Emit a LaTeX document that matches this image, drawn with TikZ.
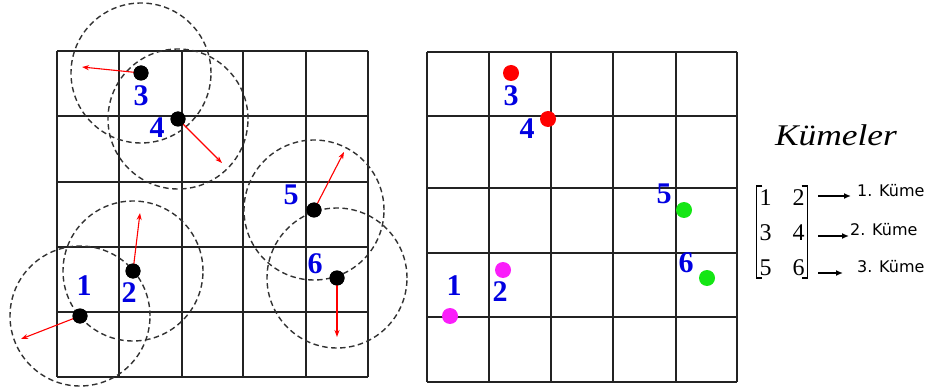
\documentclass[tikz,border=0pt]{standalone}
\usepackage{fontspec}
\setmainfont{Liberation Serif}
\newfontfamily\legendfont{DejaVu Sans}
\usetikzlibrary{positioning, arrows.meta, matrix}
\definecolor{LabelBlue}{RGB}{0, 0, 225}
\definecolor{GridGray}{RGB}{35, 35, 35}
\definecolor{RingGray}{RGB}{50, 50, 50}
\definecolor{DotRed}{RGB}{255, 0, 0}
\definecolor{DotPink}{RGB}{250, 30, 250}
\definecolor{DotGreen}{RGB}{20, 230, 20}

\begin{document}
\begin{tikzpicture}[
    x=1pt, y=-1pt,
    gridline/.style={line width=1.5pt, GridGray},
    ring/.style={dash pattern=on 5.5pt off 3.5pt, line width=1.4pt, RingGray},
    dot/.style={circle, fill=black, minimum size=15pt, inner sep=0pt},
    cdot/.style={circle, fill=#1, minimum size=16pt, inner sep=0pt},
    num/.style={font=\bfseries\fontsize{30}{30}\selectfont, text=LabelBlue, inner sep=0pt},
    move/.style={-{Stealth[length=7pt, width=5pt]}, line width=1.1pt, red},
    legarrow/.style={-{Latex[length=7pt, width=6pt]}, line width=2pt, black},
    bracket/.style={line width=1.5pt, black},
    kume/.style={font=\legendfont\fontsize{16}{16}\selectfont, inner sep=0pt, anchor=west}
  ]
    \useasboundingbox (0,0) rectangle (929,390);

    % left grid
    \foreach \x in {57,119,182,243,306,368}
      \draw[gridline] (\x,51) -- (\x,377);
    \foreach \y in {51,116,182,247,312,377}
      \draw[gridline] (57,\y) -- (368,\y);

    % right grid
    \foreach \x in {427,489,551,613,676,737}
      \draw[gridline] (\x,52) -- (\x,382);
    \foreach \y in {52,116,188,253,317,382}
      \draw[gridline] (427,\y) -- (737,\y);

    % points before clustering
    \node[dot] (l1) at (80,316) {};
    \node[dot] (l2) at (133,271) {};
    \node[dot] (l3) at (141,73) {};
    \node[dot] (l4) at (178,119) {};
    \node[dot] (l5) at (314,210) {};
    \node[dot] (l6) at (337,278) {};

    \draw[ring] (l1.center) circle[radius=70pt];
    \draw[ring] (l2.center) circle[radius=70pt];
    \draw[ring] (l3.center) circle[radius=70pt];
    \draw[ring] (l4.center) circle[radius=70pt];
    \draw[ring] (l5.center) circle[radius=70pt];
    \draw[ring] (l6.center) circle[radius=70pt];

    \coordinate (t1) at (21,339);
    \coordinate (t2) at (140,213);
    \coordinate (t3) at (82,67);
    \coordinate (t4) at (222,163);
    \coordinate (t5) at (344,152);
    \coordinate (t6) at (337,337);

    \draw[move] (l1.center) -- (t1);
    \draw[move] (l2.center) -- (t2);
    \draw[move] (l3.center) -- (t3);
    \draw[move] (l4.center) -- (t4);
    \draw[move] (l5.center) -- (t5);
    \draw[move] (l6.center) -- (t6);

    \node[dot] at (l1) {};
    \node[dot] at (l2) {};
    \node[dot] at (l3) {};
    \node[dot] at (l4) {};
    \node[dot] at (l5) {};
    \node[dot] at (l6) {};

    \node[num] (n1) at (84,286) {1};
    \node[num] (n2) at (129,293) {2};
    \node[num] (n3) at (141,96) {3};
    \node[num] (n4) at (157,128) {4};
    \node[num] (n5) at (291,195) {5};
    \node[num] (n6) at (315,264) {6};

    % points after clustering
    \node[cdot=DotPink] (r1) at (450,316) {};
    \node[cdot=DotPink] (r2) at (503,270) {};
    \node[cdot=DotRed] (r3) at (511,73) {};
    \node[cdot=DotRed] (r4) at (548,119) {};
    \node[cdot=DotGreen] (r5) at (684,210) {};
    \node[cdot=DotGreen] (r6) at (707,278) {};

    \node[num] (m1) at (454,286) {1};
    \node[num] (m2) at (500,292) {2};
    \node[num] (m3) at (511,96) {3};
    \node[num] (m4) at (527,129) {4};
    \node[num] (m5) at (664,194) {5};
    \node[num] (m6) at (686,263) {6};

    % legend
    \node (title) at (836,135) {\fontsize{30}{30}\selectfont\scalebox{1.18}[1]{\itshape Kümeler}};

    \matrix (mat) [matrix of nodes, inner sep=2pt,
      nodes={font=\fontsize{24}{24}\selectfont, inner sep=1pt, text height=16pt, text depth=0pt},
      row sep=17pt, column sep=19pt] at (782,232) {
      1 & 2 \\
      3 & 4 \\
      5 & 6 \\
    };
    \draw[bracket] ([xshift=6pt]mat.north west) -- (mat.north west) -- (mat.south west) -- ([xshift=6pt]mat.south west);
    \draw[bracket] ([xshift=-6pt]mat.north east) -- (mat.north east) -- (mat.south east) -- ([xshift=-6pt]mat.south east);

    \node[kume] (k1) at (857,191) {1. Küme};
    \node[kume] (k2) at (850,230) {2. Küme};
    \node[kume] (k3) at (857,267) {3. Küme};

    \coordinate (a1) at (818,196);
    \coordinate (a2) at (818,236);
    \coordinate (a3) at (818,273);

    \draw[legarrow, shorten >=6pt] (a1) -- (a1 -| k1.west);
    \draw[legarrow, shorten >=1pt] (a2) -- (a2 -| k2.west);
    \draw[legarrow, shorten >=14pt] (a3) -- (a3 -| k3.west);
  \end{tikzpicture}
\end{document}
